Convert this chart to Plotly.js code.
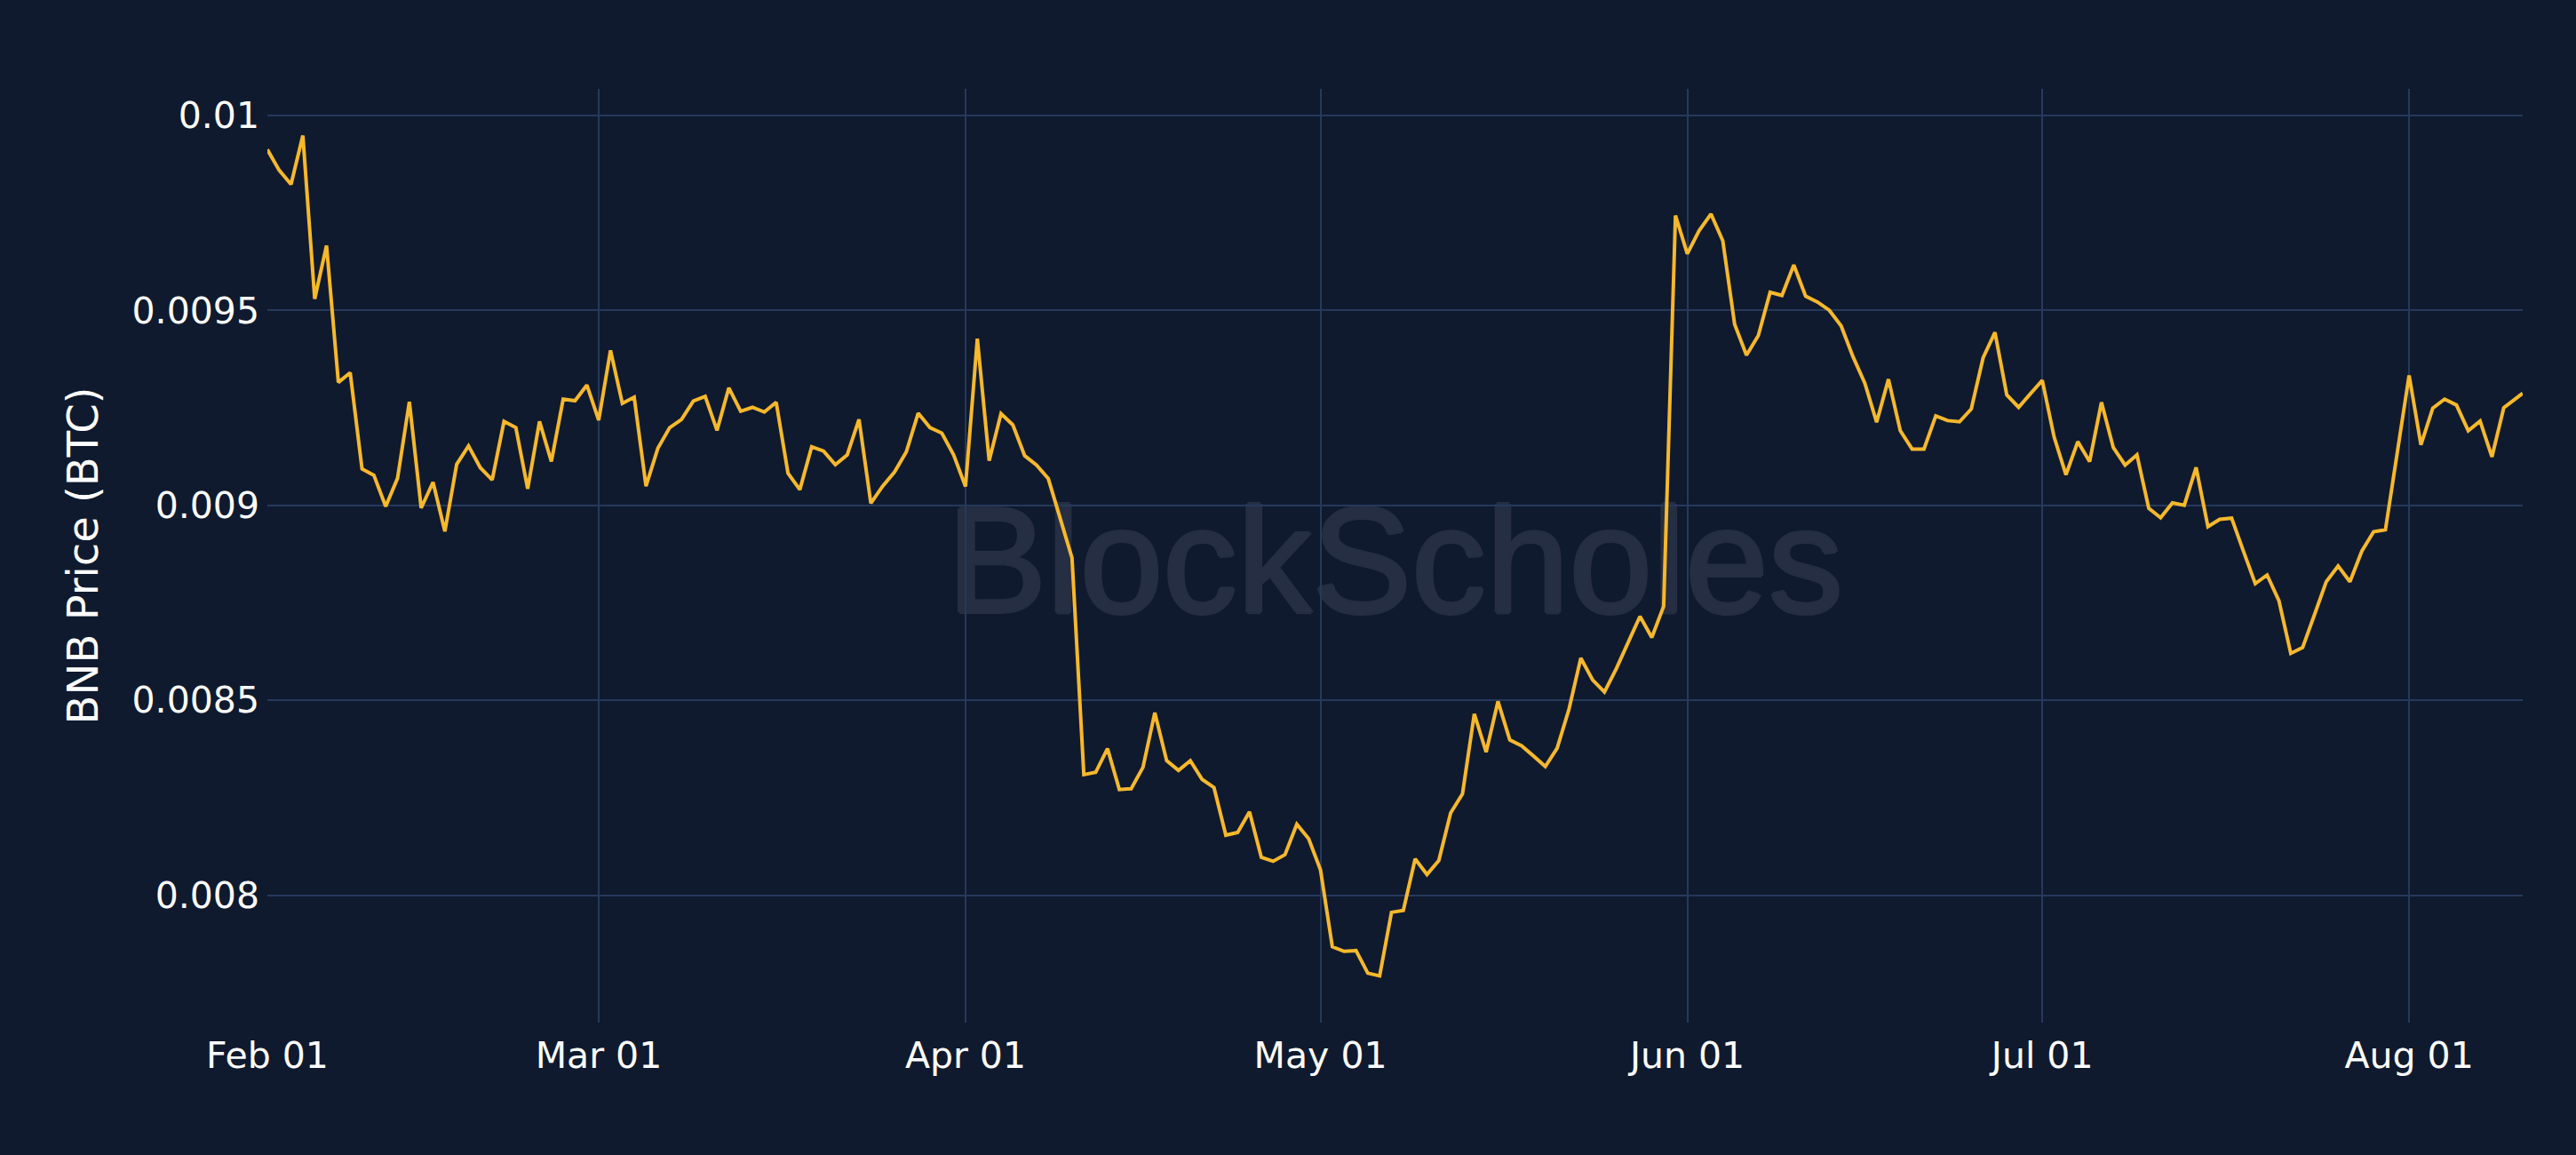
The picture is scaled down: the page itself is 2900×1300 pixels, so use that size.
<!DOCTYPE html>
<html><head><meta charset="utf-8">
<script src="https://cdn.plot.ly/plotly-3.0.1.min.js"></script>
<style>html,body{margin:0;padding:0;background:#0f1a2e;}</style>
</head><body>
<div id="chart" style="width:2900px;height:1300px;"></div>
<script>
// Daily BNB price in BTC; each month array starts on the 1st of that month.
const febValues = [0.009912, 0.009859, 0.009823, 0.009948, 0.009529, 0.009666, 0.009315, 0.009340, 0.009093, 0.009077, 0.008997, 0.009069, 0.009265, 0.008993, 0.009059, 0.008933, 0.009105, 0.009152, 0.009096, 0.009065, 0.009215, 0.009199, 0.009042, 0.009215, 0.009112, 0.009272, 0.009268, 0.009308];
const marValues = [0.009218, 0.009397, 0.009261, 0.009277, 0.009049, 0.009146, 0.009199, 0.009220, 0.009267, 0.009279, 0.009192, 0.009301, 0.009241, 0.009251, 0.009239, 0.009264, 0.009082, 0.009040, 0.009150, 0.009139, 0.009104, 0.009129, 0.009220, 0.009005, 0.009049, 0.009085, 0.009137, 0.009236, 0.009199, 0.009185, 0.009129];
const aprValues = [0.009048, 0.009427, 0.009114, 0.009235, 0.009206, 0.009127, 0.009103, 0.009068, 0.008968, 0.008865, 0.008309, 0.008315, 0.008376, 0.008271, 0.008273, 0.008328, 0.008468, 0.008345, 0.008320, 0.008345, 0.008297, 0.008276, 0.008154, 0.008161, 0.008214, 0.008097, 0.008087, 0.008104, 0.008182, 0.008145];
const mayValues = [0.008065, 0.007868, 0.007856, 0.007858, 0.007800, 0.007793, 0.007956, 0.007961, 0.008093, 0.008053, 0.008089, 0.008211, 0.008260, 0.008465, 0.008367, 0.008497, 0.008398, 0.008383, 0.008357, 0.008330, 0.008377, 0.008477, 0.008608, 0.008552, 0.008521, 0.008581, 0.008648, 0.008715, 0.008661, 0.008741, 0.009743];
const junValues = [0.009645, 0.009704, 0.009747, 0.009678, 0.009464, 0.009385, 0.009435, 0.009546, 0.009538, 0.009616, 0.009536, 0.009521, 0.009500, 0.009460, 0.009381, 0.009313, 0.009213, 0.009323, 0.009191, 0.009144, 0.009144, 0.009229, 0.009217, 0.009214, 0.009247, 0.009378, 0.009443, 0.009283, 0.009251, 0.009286];
const julValues = [0.009320, 0.009175, 0.009078, 0.009163, 0.009112, 0.009264, 0.009148, 0.009103, 0.009129, 0.008992, 0.008968, 0.009006, 0.009000, 0.009097, 0.008945, 0.008964, 0.008967, 0.008882, 0.008799, 0.008821, 0.008755, 0.008620, 0.008635, 0.008719, 0.008804, 0.008844, 0.008804, 0.008882, 0.008932, 0.008937, 0.009135];
const augValues = [0.009333, 0.009155, 0.009249, 0.009272, 0.009257, 0.009191, 0.009216, 0.009124, 0.009250];
const lastTimestamp = '2022-08-10 14:24';
const lastValue = 0.009287;

const months = [
  {year: 2022, month: 1, values: febValues},
  {year: 2022, month: 2, values: marValues},
  {year: 2022, month: 3, values: aprValues},
  {year: 2022, month: 4, values: mayValues},
  {year: 2022, month: 5, values: junValues},
  {year: 2022, month: 6, values: julValues},
  {year: 2022, month: 7, values: augValues}
];

const dates = [];
const prices = [];
months.forEach(m => {
  m.values.forEach((v, i) => {
    dates.push(new Date(Date.UTC(m.year, m.month, 1 + i)).toISOString().slice(0, 10));
    prices.push(v);
  });
});
dates.push(lastTimestamp);
prices.push(lastValue);

const FONT = '"DejaVu Sans", Verdana, sans-serif';
const WM_FONT = '"Liberation Sans", Arial, sans-serif';
const gridColor = '#26395c';
const wmColor = '#252e42';

const trace = {
  x: dates,
  y: prices,
  type: 'scatter',
  mode: 'lines',
  line: {color: '#f6b82c', width: 4},
  hoverinfo: 'x+y'
};

const layout = {
  width: 2900,
  height: 1300,
  paper_bgcolor: '#0f1a2e',
  plot_bgcolor: '#0f1a2e',
  margin: {l: 301, r: 60, t: 100, b: 149},
  showlegend: false,
  font: {family: FONT, color: '#ffffff', size: 41},
  xaxis: {
    type: 'date',
    range: [dates[0], dates[dates.length - 1]],
    dtick: 'M1',
    tick0: '2022-02-01',
    tickformat: '%b %d',
    showgrid: true,
    gridcolor: gridColor,
    gridwidth: 2,
    zeroline: false,
    showline: false,
    ticks: '',
    ticklabelstandoff: 9,
    tickfont: {family: FONT, size: 41, color: '#ffffff'},
    automargin: false
  },
  yaxis: {
    dtick: 0.0005,
    showgrid: true,
    gridcolor: gridColor,
    gridwidth: 2,
    zeroline: false,
    showline: false,
    ticks: '',
    ticklabelstandoff: 8,
    tickfont: {family: FONT, size: 41, color: '#ffffff'},
    title: {text: 'BNB Price (BTC)', font: {family: FONT, size: 48, color: '#ffffff'}, standoff: 22},
    automargin: false
  },
  shapes: [{
    type: 'rect',
    xref: 'paper', yref: 'paper',
    x0: 0.2, x1: 0.8, y0: 0.31, y1: 0.71,
    line: {width: 0},
    fillcolor: 'rgba(0,0,0,0)',
    layer: 'below',
    label: {
      text: 'BlockScholes',
      textposition: 'middle center',
      font: {
        family: WM_FONT, size: 168, color: wmColor,
        shadow: '2px 0 0 ' + wmColor + ', -2px 0 0 ' + wmColor + ', 0 2px 0 ' + wmColor + ', 0 -2px 0 ' + wmColor
      }
    }
  }]
};

Plotly.newPlot('chart', [trace], layout, {displayModeBar: false, staticPlot: true});
</script>
</body></html>
